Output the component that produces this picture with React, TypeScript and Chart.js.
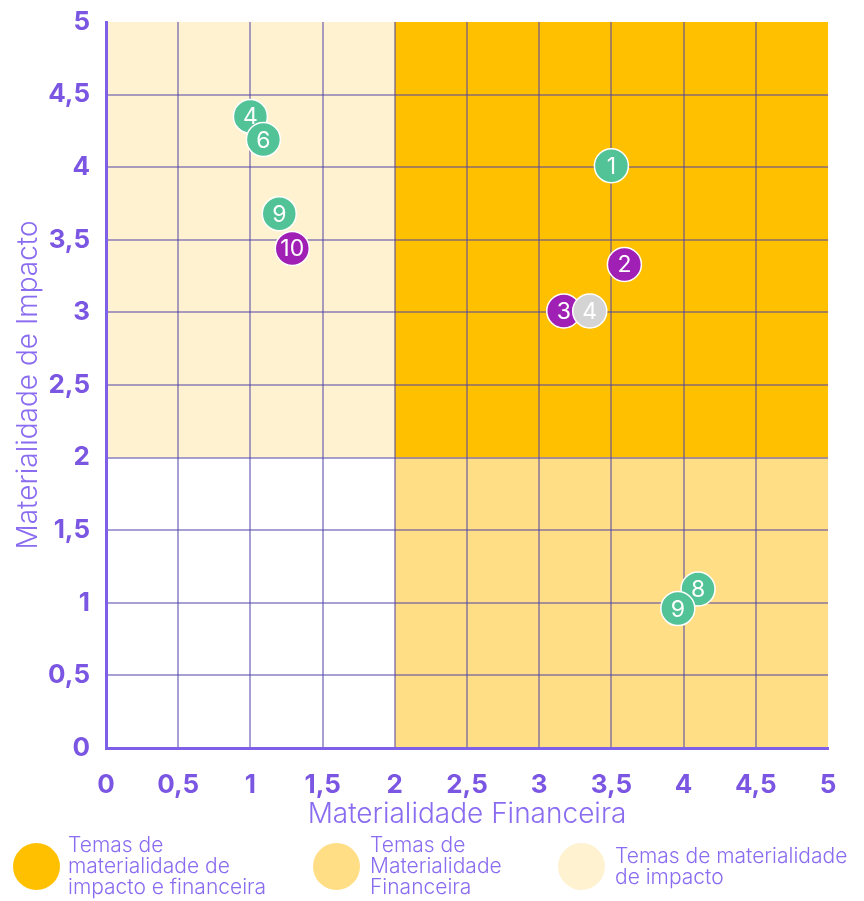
import React, { useEffect, useRef } from "react";
import { Chart, registerables } from "chart.js";

Chart.register(...registerables);

const xValues = [1.0, 1.09, 1.2, 1.29, 3.5, 3.59, 3.17, 3.35, 4.1, 3.96];
const yValues = [4.35, 4.19, 3.68, 3.44, 4.01, 3.33, 3.01, 3.01, 1.095, 0.96];
const pointLabels = ["4", "6", "9", "10", "1", "2", "3", "4", "8", "9"];
const pointGroups = ["green", "green", "green", "purple", "green", "purple", "purple", "grey", "green", "green"];

const groupColors: Record<string, string> = {
  green: "#52C297",
  purple: "#A01FB4",
  grey: "#D4D4D4",
};

const tickValues = [0, 0.5, 1, 1.5, 2, 2.5, 3, 3.5, 4, 4.5, 5];
const threshold = 2;
const axisMax = 5;

const legendItems = [
  { color: "#FFC000", lines: ["Temas de", "materialidade de", "impacto e financeira"] },
  { color: "#FFDE85", lines: ["Temas de", "Materialidade", "Financeira"] },
  { color: "#FFF2D1", lines: ["Temas de materialidade", "de impacto"] },
];

const xTitle = "Materialidade Financeira";
const yTitle = "Materialidade de Impacto";

const TICK_COLOR = "#7B56E2";
const TITLE_COLOR = "#8A6CF0";
const GRID_COLOR = "rgba(80, 65, 165, 0.5)";
const FONT = "Inter, 'Noto Sans', sans-serif";

const fmt = (v: number) => String(v).replace(".", ",");

const quadrantPlugin = {
  id: "quadrants",
  beforeDraw(chart: any) {
    const { ctx, scales } = chart;
    const xs = scales.x;
    const ys = scales.y;
    const x0 = xs.getPixelForValue(0);
    const xT = xs.getPixelForValue(threshold);
    const x5 = xs.getPixelForValue(axisMax);
    const y0 = ys.getPixelForValue(0);
    const yT = ys.getPixelForValue(threshold);
    const y5 = ys.getPixelForValue(axisMax);
    ctx.save();
    ctx.fillStyle = "#FFF2D1";
    ctx.fillRect(x0, y5, xT - x0, yT - y5);
    ctx.fillStyle = "#FFC000";
    ctx.fillRect(xT, y5, x5 - xT, yT - y5);
    ctx.fillStyle = "#FFDE85";
    ctx.fillRect(xT, yT, x5 - xT, y0 - yT);
    ctx.restore();
  },
};

const labelPlugin = {
  id: "pointLabels",
  afterDatasetDraw(chart: any, args: any) {
    const meta = chart.getDatasetMeta(args.index);
    const ds = chart.data.datasets[args.index];
    const { ctx } = chart;
    ctx.save();
    ctx.fillStyle = "#FFFFFF";
    ctx.font = `400 23px ${FONT}`;
    ctx.textAlign = "center";
    ctx.textBaseline = "middle";
    meta.data.forEach((el: any) => {
      ctx.fillText(ds.pointText, el.x, el.y + 1);
    });
    ctx.restore();
  },
};

export default function App() {
  const ref = useRef<HTMLCanvasElement | null>(null);

  useEffect(() => {
    if (!ref.current) return;
    const n = xValues.length;
    const datasets = xValues.map((x, i) => ({
      label: pointLabels[i],
      pointText: pointLabels[i],
      data: [{ x, y: yValues[i] }],
      backgroundColor: groupColors[pointGroups[i]],
      borderColor: "#FFFFFF",
      borderWidth: 1.5,
      pointRadius: 17,
      pointHoverRadius: 17,
      order: n - i,
    }));

    const chart = new Chart(ref.current, {
      type: "scatter",
      data: { datasets: datasets as any },
      plugins: [quadrantPlugin, labelPlugin],
      options: {
        animation: false,
        responsive: false,
        layout: { padding: { left: 0, right: 36, top: 22, bottom: 0 } },
        plugins: {
          legend: { display: false },
          tooltip: { enabled: false },
        },
        scales: {
          x: {
            type: "linear",
            min: 0,
            max: axisMax,
            afterBuildTicks: (s: any) => {
              s.ticks = tickValues.map((v) => ({ value: v }));
            },
            afterFit: (s: any) => {
              s.height = 87;
              s.paddingRight = 0;
              s.paddingLeft = 0;
            },
            ticks: {
              color: TICK_COLOR,
              font: { family: FONT, size: 26, weight: "bold" },
              padding: 22,
              callback: (v: any) => fmt(Number(v)),
              maxRotation: 0,
            },
            grid: {
              color: (c: any) => (c.tick && c.tick.value === axisMax ? "rgba(0,0,0,0)" : GRID_COLOR),
              lineWidth: 2,
              drawTicks: false,
            },
            border: { display: true, color: "#7E5FE8", width: 3 },
            title: {
              display: true,
              text: xTitle,
              color: TITLE_COLOR,
              font: { family: FONT, size: 28, weight: "300" },
              padding: { top: 0, bottom: 4 },
            },
          },
          y: {
            type: "linear",
            min: 0,
            max: axisMax,
            afterBuildTicks: (s: any) => {
              s.ticks = tickValues.map((v) => ({ value: v }));
            },
            afterFit: (s: any) => {
              s.width = 106;
              s.paddingTop = 0;
              s.paddingBottom = 0;
            },
            ticks: {
              color: TICK_COLOR,
              font: { family: FONT, size: 26, weight: "bold" },
              padding: 16,
              callback: (v: any) => fmt(Number(v)),
            },
            grid: {
              color: (c: any) => (c.tick && c.tick.value === axisMax ? "rgba(0,0,0,0)" : GRID_COLOR),
              lineWidth: 2,
              drawTicks: false,
            },
            border: { display: true, color: "#7E5FE8", width: 3 },
            title: {
              display: true,
              text: yTitle,
              color: TITLE_COLOR,
              font: { family: FONT, size: 28, weight: "300" },
              padding: { top: 12, bottom: 0 },
            },
          },
        },
      } as any,
    });
    return () => chart.destroy();
  }, []);

  return (
    <div style={{ position: "absolute", left: 0, top: 0, width: 864, height: 901, background: "#fff" }}>
      <canvas ref={ref} width={864} height={835} style={{ display: "block" }} />
      {legendItems.map((item, i) => {
        const lefts = [13, 313, 558];
        const textLefts = [68, 370, 615];
        return (
          <div key={i}>
            <div
              style={{
                position: "absolute",
                left: lefts[i],
                top: 843,
                width: 47,
                height: 47,
                borderRadius: "50%",
                background: item.color,
              }}
            />
            <div
              style={{
                position: "absolute",
                left: textLefts[i],
                top: i === 2 ? 845 : 834,
                fontFamily: FONT,
                fontWeight: 300,
                fontSize: 21,
                lineHeight: "21px",
                color: TITLE_COLOR,
                whiteSpace: "nowrap",
              }}
            >
              {item.lines.map((l, j) => (
                <div key={j}>{l}</div>
              ))}
            </div>
          </div>
        );
      })}
    </div>
  );
}
